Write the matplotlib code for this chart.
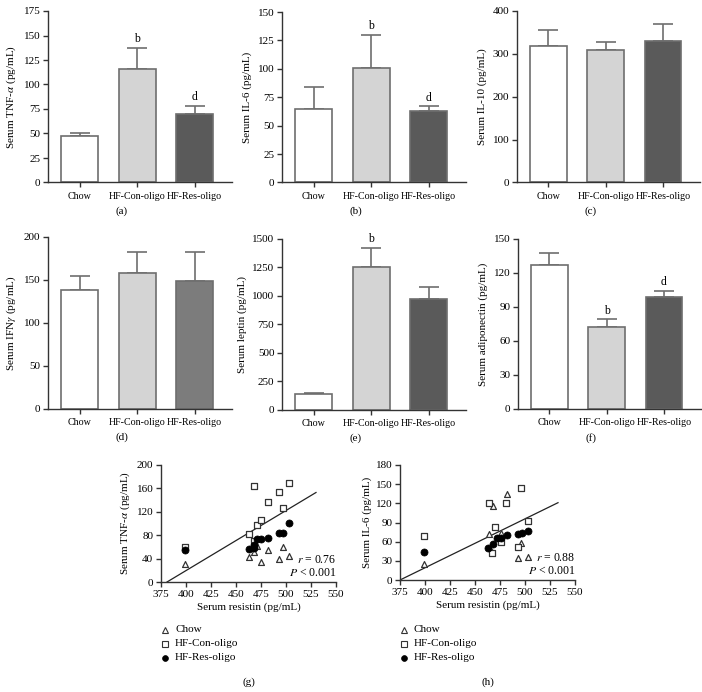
import matplotlib
matplotlib.use("Agg")
import matplotlib.pyplot as plt
import numpy as np

plt.rcParams['font.family'] = ['Liberation Serif', 'DejaVu Serif']
plt.rcParams['mathtext.fontset'] = 'stix'

groups = ["Chow", "HF-Con-oligo", "HF-Res-oligo"]

# Bar panels: means and upper error values (mean + SE)
tnf_mean = [47, 116, 70]
tnf_top = [51, 137, 78]
il6_mean = [65, 101, 63]
il6_top = [84, 130, 67]
il10_mean = [318, 308, 330]
il10_top = [355, 328, 370]
ifn_mean = [138, 158, 149]
ifn_top = [155, 182, 183]
lep_mean = [135, 1250, 975]
lep_top = [148, 1425, 1080]
adi_mean = [127, 72, 99]
adi_top = [138, 79, 104]

# Scatter (g): resistin vs TNF-a
g_chow_x = [399, 463, 468, 471, 475, 482, 493, 497, 503]
g_chow_y = [31, 42, 51, 62, 35, 55, 40, 59, 45]
g_con_x = [399, 463, 468, 468, 471, 475, 482, 493, 497, 503]
g_con_y = [59, 82, 70, 164, 98, 106, 136, 154, 127, 170]
g_res_x = [399, 463, 468, 468, 471, 475, 482, 493, 497, 503]
g_res_y = [54, 56, 58, 63, 73, 73, 75, 83, 83, 101]
g_line_x = [381, 530]
g_line_y = [0, 153]

# Scatter (h): resistin vs IL-6
h_chow_x = [399, 464, 467, 468, 476, 482, 493, 496, 503]
h_chow_y = [24.5, 72, 44, 116, 73, 135, 34, 58, 35.5]
h_con_x = [399, 464, 467, 470, 476, 481, 493, 496, 503]
h_con_y = [69, 121, 42, 83, 60, 120, 51, 143.5, 93]
h_res_x = [399, 463, 468, 472, 476, 482, 493, 497, 503]
h_res_y = [44, 50, 57, 66, 66, 70, 72, 74, 77]
h_line_x = [375, 533]
h_line_y = [0, 121]

W, H = 702, 692
fig = plt.figure(figsize=(W / 100, H / 100), dpi=100)


def add_ax(l, t, r, b):
    return fig.add_axes([l / W, 1 - b / H, (r - l) / W, (b - t) / H])


SPINE = '#333333'
EDGE = '#6e6e6e'


def style(ax):
    for s in ['top', 'right']:
        ax.spines[s].set_visible(False)
    for s in ['left', 'bottom']:
        ax.spines[s].set_color(SPINE)
        ax.spines[s].set_linewidth(1.0)
    ax.tick_params(direction='out', length=3.5, width=1.0, color=SPINE,
                   labelsize=8, pad=2)


def bar_panel(box, means, tops, ymax, step, ylabel, letter, colors, sig):
    ax = add_ax(*box)
    style(ax)
    x = np.arange(3)
    err = [np.zeros(3), np.array(tops) - np.array(means)]
    ax.bar(x, means, width=0.64, color=colors, edgecolor=EDGE, linewidth=1.2,
           zorder=2)
    ax.errorbar(x, means, yerr=err, fmt='none', ecolor=EDGE, elinewidth=1.2,
                capsize=7, capthick=1.2, zorder=1)
    for i, s in sig.items():
        ax.annotate(s, (x[i], tops[i]), xytext=(0, 2), textcoords='offset points',
                    ha='center', va='bottom', fontsize=8.5)
    ax.set_xlim(-0.55, 2.65)
    ax.set_ylim(0, ymax)
    ax.set_yticks(np.arange(0, ymax + step / 2, step))
    ax.set_xticks(x)
    ax.set_xticklabels(groups, fontsize=7.2)
    ax.tick_params(axis='x', pad=3)
    ax.set_ylabel(ylabel, fontsize=8, labelpad=4)
    l, t, r, b = box
    fig.text(((l + r) / 2 - 18) / W, 1 - (b + 29) / H, letter, ha='center',
             va='center', fontsize=8)
    return ax


c3 = ['white', '#d4d4d4', '#5a5a5a']
c3d = ['white', '#d4d4d4', '#7c7c7c']

bar_panel((48, 11, 232, 182.5), tnf_mean, tnf_top, 175, 25,
          'Serum TNF-$\\alpha$ (pg/mL)', '(a)', c3, {1: 'b', 2: 'd'})
bar_panel((282, 12, 466, 182.5), il6_mean, il6_top, 150, 25,
          'Serum IL-6 (pg/mL)', '(b)', c3, {1: 'b', 2: 'd'})
bar_panel((517, 11, 700, 182.5), il10_mean, il10_top, 400, 100,
          'Serum IL-10 (pg/mL)', '(c)', c3, {})
bar_panel((48, 237, 232, 408.5), ifn_mean, ifn_top, 200, 50,
          'Serum IFN$\\gamma$ (pg/mL)', '(d)', c3d, {})
bar_panel((282, 239, 466, 409.5), lep_mean, lep_top, 1500, 250,
          'Serum leptin (pg/mL)', '(e)', c3, {1: 'b'})
bar_panel((518, 239, 701, 409), adi_mean, adi_top, 150, 30,
          'Serum adiponectin (pg/mL)', '(f)', c3, {1: 'b', 2: 'd'})


def scatter_panel(box, data, line, ymax, ystep, ylabel, rtext, letter):
    ax = add_ax(*box)
    style(ax)
    (cx, cy), (sx, sy), (rx, ry) = data
    ax.plot(line[0], line[1], color='#222222', lw=0.9, zorder=1)
    ax.scatter(cx, cy, marker='^', s=18, facecolors='white',
               edgecolors='#333333', linewidths=0.9, zorder=3)
    ax.scatter(sx, sy, marker='s', s=24, facecolors='white',
               edgecolors='#333333', linewidths=0.9, zorder=3)
    ax.scatter(rx, ry, marker='o', s=26, facecolors='black',
               edgecolors='black', linewidths=0.5, zorder=4)
    ax.set_xlim(375, 550)
    ax.set_ylim(0, ymax)
    ax.set_xticks(np.arange(375, 551, 25))
    ax.set_yticks(np.arange(0, ymax + 1, ystep))
    ax.set_xlabel('Serum resistin (pg/mL)', fontsize=8, labelpad=3)
    ax.set_ylabel(ylabel, fontsize=8, labelpad=3)
    ax.text(1.0, 0.19, '$r$ = ' + rtext, transform=ax.transAxes, ha='right',
            va='center', fontsize=8.5)
    ax.text(1.0, 0.08, '$P$ < 0.001', transform=ax.transAxes, ha='right',
            va='center', fontsize=8.5)
    l, t, r, b = box
    mx = l + 4
    ys = [630, 644, 658]
    specs = [dict(marker='^', ms=4.2, mfc='white', mec='#333333', mew=0.8),
             dict(marker='s', ms=4.2, mfc='white', mec='#333333', mew=0.8),
             dict(marker='o', ms=4.2, mfc='black', mec='black', mew=0.5)]
    for yy, nm, sp in zip(ys, groups, specs):
        fig.lines.append(plt.Line2D([mx / W], [1 - yy / H], ls='none',
                                    transform=fig.transFigure, **sp))
        fig.text((mx + 10) / W, 1 - yy / H, nm, ha='left', va='center',
                 fontsize=8)
    fig.text(((l + r) / 2) / W, 1 - 682 / H, letter, ha='center', va='center',
             fontsize=8)


scatter_panel((161, 465, 336, 582),
              [(g_chow_x, g_chow_y), (g_con_x, g_con_y), (g_res_x, g_res_y)],
              (g_line_x, g_line_y), 200, 40, 'Serum TNF-$\\alpha$ (pg/mL)',
              '0.76', '(g)')
scatter_panel((400, 465, 575, 580),
              [(h_chow_x, h_chow_y), (h_con_x, h_con_y), (h_res_x, h_res_y)],
              (h_line_x, h_line_y), 180, 30, 'Serum IL-6 (pg/mL)',
              '0.88', '(h)')

fig.savefig('out.png', dpi=100)
